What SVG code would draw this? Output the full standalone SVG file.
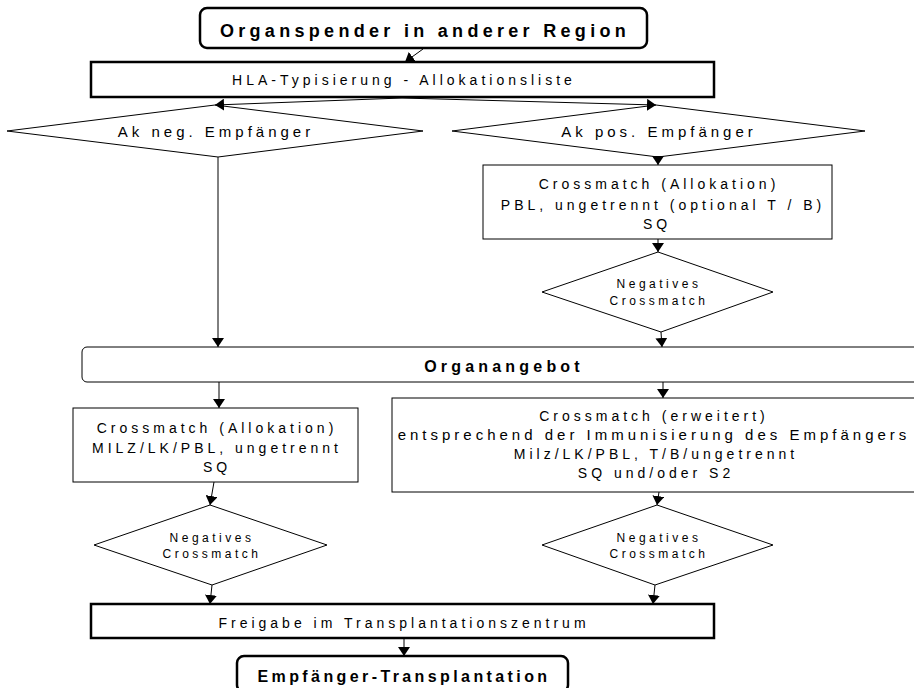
<svg xmlns="http://www.w3.org/2000/svg" width="914" height="688" viewBox="0 0 914 688">
<style>
  text { font-family: "Liberation Sans", Arial, sans-serif; fill: #000; text-anchor: middle; }
  .t14 { font-size: 14px; letter-spacing: 4px; }
  .t15 { font-size: 15px; letter-spacing: 4px; }
  .t11 { font-size: 12px; letter-spacing: 3.5px; }
  .title { font-size: 18px; font-weight: bold; letter-spacing: 4.3px; }
  .bold16 { font-size: 16px; font-weight: bold; letter-spacing: 4.2px; }
  .bold16b { font-size: 16px; font-weight: bold; letter-spacing: 3.4px; }
  .thick { fill: #fff; stroke: #000; stroke-width: 2.5; }
  .thin { fill: #fff; stroke: #000; stroke-width: 1; }
  .conn { fill: none; stroke: #000; stroke-width: 1; marker-end: url(#arr); }
</style>
<defs>
  <marker id="arr" viewBox="0 0 9 12" refX="9" refY="6" markerWidth="9" markerHeight="12" markerUnits="userSpaceOnUse" orient="auto">
    <path d="M0,0 L9,6 L0,12 z" fill="#000"/>
  </marker>
</defs>
<rect width="914" height="688" fill="#fff"/>

<g id="organspender">
  <rect class="thick" x="200" y="8" width="447" height="40" rx="7"/>
  <text class="title" x="425" y="37">Organspender in anderer Region</text>
</g>
<g id="hla">
  <rect class="thick" x="91" y="62" width="623" height="35"/>
  <text class="t14" x="404" y="85">HLA-Typisierung - Allokationsliste</text>
</g>
<g id="akneg">
  <polygon class="thin" points="215,105 423,131 218,157 7,131"/>
  <text class="t15" x="216" y="137">Ak neg. Empfänger</text>
</g>
<g id="akpos">
  <polygon class="thin" points="656,105 865,131 658,157 452,131"/>
  <text class="t15" x="659" y="137">Ak pos. Empfänger</text>
</g>
<g id="crossmatch-alloc-pos">
  <rect class="thin" x="483" y="165" width="349" height="74"/>
  <text class="t14" x="659" y="189">Crossmatch (Allokation)</text>
  <text class="t14" x="663" y="210">PBL, ungetrennt (optional T / B)</text>
  <text class="t14" x="657" y="229">SQ</text>
</g>
<g id="negcm1">
  <polygon class="thin" points="658,252 773,292 661,332 542,292"/>
  <text class="t11" x="659" y="288">Negatives</text>
  <text class="t11" x="659" y="305">Crossmatch</text>
</g>
<g id="organangebot">
  <rect class="thin" x="82" y="347" width="840" height="35" rx="5"/>
  <text class="bold16" x="504" y="372">Organangebot</text>
</g>
<g id="crossmatch-alloc-neg">
  <rect class="thin" x="73" y="408" width="285" height="74"/>
  <text class="t14" x="217" y="433">Crossmatch (Allokation)</text>
  <text class="t14" x="217" y="453">MILZ/LK/PBL, ungetrennt</text>
  <text class="t14" x="217" y="472">SQ</text>
</g>
<g id="crossmatch-erweitert">
  <rect class="thin" x="392" y="398" width="530" height="94"/>
  <text class="t14" x="654" y="421">Crossmatch (erweitert)</text>
  <text class="t15" x="654" y="440">entsprechend der Immunisierung des Empfängers</text>
  <text class="t14" x="656" y="459">Milz/LK/PBL, T/B/ungetrennt</text>
  <text class="t14" x="656" y="478">SQ und/oder S2</text>
</g>
<g id="negcm2">
  <polygon class="thin" points="210,505 327,545 212,585 94,545"/>
  <text class="t11" x="212" y="542">Negatives</text>
  <text class="t11" x="212" y="558">Crossmatch</text>
</g>
<g id="negcm3">
  <polygon class="thin" points="657,505 773,545 655,585 542,545"/>
  <text class="t11" x="659" y="542">Negatives</text>
  <text class="t11" x="659" y="558">Crossmatch</text>
</g>
<g id="freigabe">
  <rect class="thick" x="91" y="604" width="623" height="34"/>
  <text class="t14" x="404" y="628">Freigabe im Transplantationszentrum</text>
</g>
<g id="empfaenger">
  <rect class="thick" x="237" y="656" width="331" height="36" rx="7"/>
  <text class="bold16b" x="404" y="682">Empfänger-Transplantation</text>
</g>

<g id="connectors">
  <line class="conn" x1="423" y1="49" x2="405" y2="62"/>
  <line class="conn" x1="402" y1="98" x2="215" y2="105"/>
  <line class="conn" x1="402" y1="98" x2="656" y2="105"/>
  <line class="conn" x1="218" y1="157" x2="218" y2="347"/>
  <line class="conn" x1="658" y1="157" x2="658" y2="165"/>
  <line class="conn" x1="658" y1="239" x2="658" y2="252"/>
  <line class="conn" x1="661" y1="332" x2="662" y2="347"/>
  <line class="conn" x1="219" y1="382" x2="219" y2="408"/>
  <line class="conn" x1="663" y1="382" x2="663" y2="398"/>
  <line class="conn" x1="214" y1="482" x2="210" y2="505"/>
  <line class="conn" x1="659" y1="492" x2="657" y2="505"/>
  <line class="conn" x1="212" y1="585" x2="210" y2="604"/>
  <line class="conn" x1="655" y1="585" x2="653" y2="604"/>
  <line class="conn" x1="404" y1="638" x2="404" y2="656"/>
</g>
</svg>
